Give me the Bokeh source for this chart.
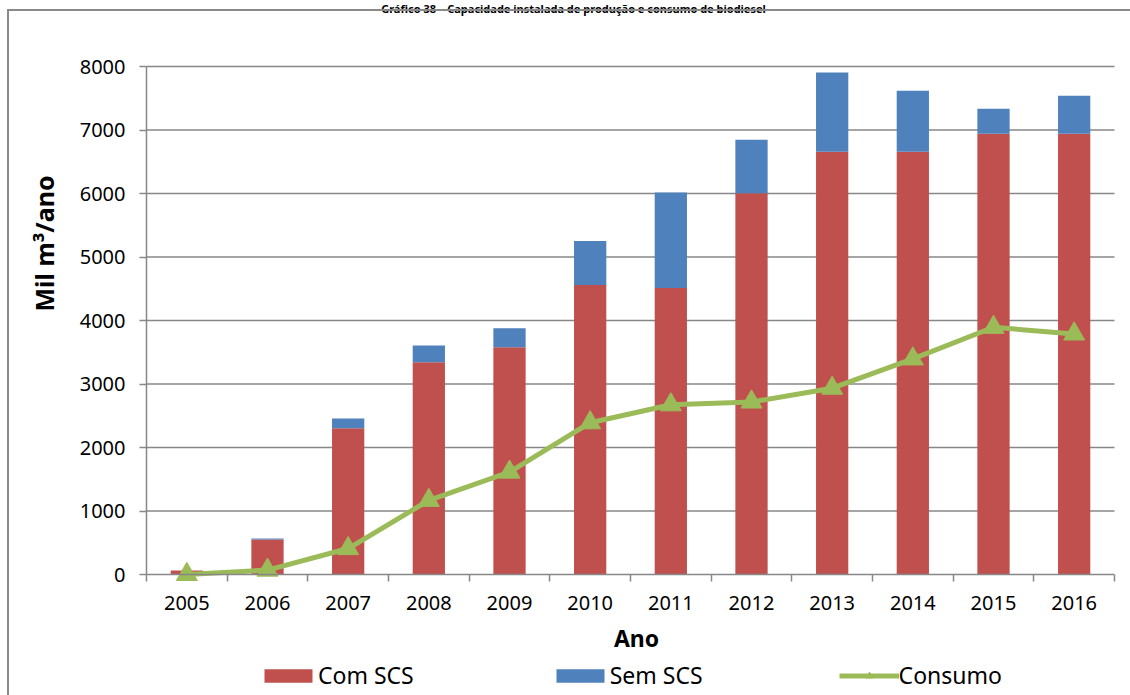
import math

from bokeh.embed import file_html
from bokeh.models import (ColumnDataSource, FixedTicker, InlineStyleSheet,
                          Label, Legend, LegendItem, LinearAxis, Range1d)
from bokeh.plotting import figure
from bokeh.resources import INLINE

# Installed capacity (thousand m³/year) and biodiesel consumption
years = ["2005", "2006", "2007", "2008", "2009", "2010",
         "2011", "2012", "2013", "2014", "2015", "2016"]
com_scs = [63, 551, 2305, 3343, 3579, 4560, 4513, 6005, 6656, 6656, 6940, 6940]
sem_scs = [0, 15, 153, 262, 298, 692, 1503, 840, 1249, 961, 393, 598]
consumo = [1, 69, 409, 1168, 1613, 2390, 2673, 2717, 2934, 3396, 3893, 3789]
y_ticks = [0, 1000, 2000, 3000, 4000, 5000, 6000, 7000, 8000]

RED = "#C0504D"
BLUE = "#4F81BD"
GREEN = "#9BBB59"
GRID = "#878787"
FONT = "Noto Sans"

# canvas size and the pixel box of the plotting area inside it
W, H = 1130, 695
LEFT, RIGHT, TOP, BOTTOM = 146, 1114, 66, 574
N = len(years)
Y_MAX = y_ticks[-1]
PX_X = (RIGHT - LEFT) / N          # pixels per category slot
PX_Y = (BOTTOM - TOP) / Y_MAX      # pixels per unit


def to_x(px):
    return (px - LEFT) / PX_X


def to_y(py):
    return (BOTTOM - py) / PX_Y


# the frame fills the canvas; axes sit at x=0 / y=0 inside it
x_range = Range1d(to_x(0), to_x(W))
y_range = Range1d(to_y(H), to_y(0))

# category slots 0..N, bars centred in each slot
xs = [i + 0.5 for i in range(N)]
src = ColumnDataSource(dict(x=xs, com=com_scs, sem=sem_scs, cons=consumo))

p = figure(width=W, height=H, x_range=x_range, y_range=y_range,
           x_axis_type=None, y_axis_type=None,
           output_backend="svg", toolbar_location=None, min_border=0)
p.outline_line_color = None
p.background_fill_color = "white"
p.border_fill_color = "white"
p.xgrid.visible = False
p.ygrid.visible = False

# open chart border on the left and top edges
p.stylesheets = [InlineStyleSheet(css="""
:host { position: relative; }
:host::after {
  content: ""; position: absolute; left: 7px; top: 9px;
  width: 3000px; height: 3000px; pointer-events: none;
  border-left: 2px solid #8a8a8a; border-top: 2px solid #8a8a8a;
}
""")]

# horizontal gridlines across the plotting area
grid_y = y_ticks[1:]
p.segment(x0=[0] * len(grid_y), x1=[N] * len(grid_y), y0=grid_y, y1=grid_y,
          line_color=GRID, line_width=1.5)

bars = p.vbar_stack(["com", "sem"], x="x", width=0.4, color=[RED, BLUE],
                    line_color=None, source=src)
line_r = p.line("x", "cons", source=src, line_width=5, color=GREEN)
mark_r = p.scatter("x", "cons", source=src, marker="triangle", size=21,
                   color=GREEN)

xaxis = LinearAxis(fixed_location=0, bounds=(0, N),
                   ticker=FixedTicker(ticks=xs, minor_ticks=list(range(N + 1))),
                   major_label_overrides={x: y for x, y in zip(xs, years)},
                   major_tick_line_color=None, major_tick_in=0,
                   major_tick_out=0, minor_tick_in=0, minor_tick_out=7,
                   major_label_standoff=14)
yaxis = LinearAxis(fixed_location=0, bounds=(0, Y_MAX),
                   ticker=FixedTicker(ticks=y_ticks, minor_ticks=[]),
                   major_tick_line_color=GRID, major_tick_in=0,
                   major_tick_out=7, major_label_standoff=14)
for ax in (xaxis, yaxis):
    ax.axis_line_color = GRID
    ax.axis_line_width = 1.5
    ax.major_tick_line_width = 1.5
    ax.minor_tick_line_color = GRID
    ax.minor_tick_line_width = 1.5
    ax.major_label_text_font = FONT
    ax.major_label_text_font_size = "20px"
    ax.major_label_text_color = "black"
p.add_layout(xaxis, "below")
p.add_layout(yaxis, "left")

p.add_layout(Label(x=to_x(573), y=to_y(8),
                   text="Gráfico 38 – Capacidade instalada de produção e consumo de biodiesel",
                   text_align="center", text_baseline="alphabetic",
                   text_font=FONT, text_font_style="bold",
                   text_font_size="11px", text_color="black"))
p.add_layout(Label(x=to_x(636), y=to_y(637), text="Ano",
                   text_align="center", text_baseline="middle",
                   text_font=FONT, text_font_style="bold",
                   text_font_size="23px", text_color="black"))
p.add_layout(Label(x=to_x(43), y=to_y(243), text="Mil m³/ano",
                   angle=math.pi / 2, text_align="center",
                   text_baseline="middle",
                   text_font=FONT, text_font_style="bold",
                   text_font_size="25px", text_color="black"))

legend = Legend(items=[LegendItem(label="Com SCS", renderers=[bars[0]]),
                       LegendItem(label="Sem SCS", renderers=[bars[1]]),
                       LegendItem(label="Consumo", renderers=[line_r, mark_r])],
                orientation="horizontal", location=(258, 4),
                glyph_width=60, glyph_height=17, label_standoff=0,
                spacing=136, padding=0, margin=0,
                border_line_color=None, background_fill_alpha=0,
                label_text_font=FONT, label_text_font_size="23px",
                label_text_color="black")
p.add_layout(legend)

open("out.html", "w").write(file_html(p, INLINE))
